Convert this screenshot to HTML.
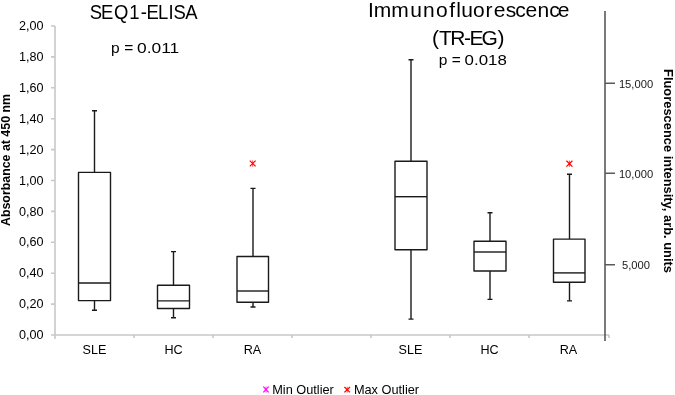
<!DOCTYPE html>
<html><head><meta charset="utf-8">
<style>
html,body{margin:0;padding:0;background:#fff;}
body{width:675px;height:395px;overflow:hidden;}
svg{display:block;will-change:transform;font-family:"Liberation Sans",sans-serif;}
.t{font-size:12.6px;fill:#000;}
.lg{font-size:12.75px;fill:#000;}
.at{font-size:12px;font-weight:bold;fill:#000;}
.r{font-size:11.2px;fill:#1a1a1a;}
.ti{font-size:21px;fill:#000;}
.p{font-size:15.5px;fill:#000;}
.b{stroke:#1a1a1a;stroke-width:1.4;fill:#fff;stroke-linejoin:round;}
.w{stroke:#1a1a1a;stroke-width:1.4;fill:none;}
.ax{stroke:#c8c8c8;stroke-width:1.6;fill:none;}
.rax{stroke:#5a5a5a;stroke-width:1.6;fill:none;}
</style></head>
<body>
<svg width="675" height="395" viewBox="0 0 675 395">
<!-- left axis -->
<path class="ax" d="M55 26 V339 M51 26 H55 M51 56.9 H55 M51 87.8 H55 M51 118.7 H55 M51 149.6 H55 M51 180.5 H55 M51 211.4 H55 M51 242.3 H55 M51 273.2 H55 M51 304.1 H55 M51 335 H609"/>
<path class="ax" d="M134 335 V338 M213 335 V338 M292 335 V338 M371 335 V338 M450 335 V338 M529 335 V338 M609 335 V338"/>
<!-- right axis -->
<path class="rax" d="M605 11 V341 M605 83.3 H615 M605 173.3 H615 M605 264.7 H615"/>

<!-- left y labels -->
<g class="t" text-anchor="end">
<text x="43.6" y="29.9">2,00</text>
<text x="43.6" y="60.9">1,80</text>
<text x="43.6" y="91.9">1,60</text>
<text x="43.6" y="122.9">1,40</text>
<text x="43.6" y="153.7">1,20</text>
<text x="43.6" y="184.6">1,00</text>
<text x="43.6" y="215.5">0,80</text>
<text x="43.6" y="246.4">0,60</text>
<text x="43.6" y="277.3">0,40</text>
<text x="43.6" y="308.2">0,20</text>
<text x="43.6" y="339.1">0,00</text>
</g>
<!-- right y labels -->
<g class="r" text-anchor="middle">
<text x="636" y="87.5">15,000</text>
<text x="636" y="177.5">10,000</text>
<text x="636" y="268.9">5,000</text>
</g>
<!-- x labels -->
<g class="t" text-anchor="middle">
<text x="94.5" y="354.2">SLE</text>
<text x="173.5" y="354.2">HC</text>
<text x="252.5" y="354.2">RA</text>
<text x="410.5" y="354.2">SLE</text>
<text x="489.5" y="354.2">HC</text>
<text x="568.5" y="354.2">RA</text>
</g>

<!-- axis titles -->
<text class="at" transform="translate(10.4,160) rotate(-90)" text-anchor="middle" textLength="132" lengthAdjust="spacingAndGlyphs">Absorbance at 450 nm</text>
<text class="at" transform="translate(664.2,171) rotate(90)" text-anchor="middle" textLength="204" lengthAdjust="spacingAndGlyphs">Fluorescence intensity, arb. units</text>

<!-- titles -->
<text class="ti" transform="scale(0.88,1)" x="102.09 114.86 129.68 146.94 160.08 166.56 179.5 191.51 197.09 210.38" y="18.9">SEQ1-ELISA</text>
<text class="p" x="111" y="53.4">p</text><text class="p" x="124.2" y="53.4">=</text><text class="p" x="137" y="53.4" textLength="42.2" lengthAdjust="spacingAndGlyphs">0.011</text>
<text class="ti" x="368.03 373.7 391.35 410.13 423.05 435.91 449.22 456.36 461.23 472.96 485.58 493.73 505.74 515.28 525.38 537.6 549.18 557.83" y="16.8">Immunofluorescence</text>
<text class="ti" x="432.06 439.09 450.19 463.9 469.44 481.54 497.44" y="44.6">(TR-EG)</text>
<text class="p" x="438.7" y="65.1">p</text><text class="p" x="451.7" y="65.1">=</text><text class="p" x="464.6" y="65.1" textLength="42.2" lengthAdjust="spacingAndGlyphs">0.018</text>

<!-- left boxes -->
<g>
<path class="w" d="M94.5 110.8 V172.4 M92 110.8 H97 M94.5 300.6 V310.3 M92 310.3 H97"/>
<rect class="b" x="78.5" y="172.4" width="32" height="128.2"/>
<path class="w" d="M78.5 283 H110.5"/>

<path class="w" d="M173.5 251.6 V285.3 M171 251.6 H176 M173.5 308.5 V317.7 M171 317.7 H176"/>
<rect class="b" x="157.5" y="285.3" width="32" height="23.2"/>
<path class="w" d="M157.5 300.9 H189.5"/>

<path class="w" d="M253 188.4 V256.5 M250.5 188.4 H255.5 M253 302.2 V307 M250.5 307 H255.5"/>
<rect class="b" x="237" y="256.5" width="31.5" height="45.7"/>
<path class="w" d="M237 291 H268.5"/>
</g>
<!-- right boxes -->
<g>
<path class="w" d="M411 59.7 V161.3 M408.5 59.7 H413.5 M411 249.7 V319.1 M408.5 319.1 H413.5"/>
<rect class="b" x="395" y="161.3" width="32" height="88.4"/>
<path class="w" d="M395 196.7 H427"/>

<path class="w" d="M490 212.7 V241.2 M487.5 212.7 H492.5 M490 271 V299.4 M487.5 299.4 H492.5"/>
<rect class="b" x="474" y="241.2" width="32" height="29.8"/>
<path class="w" d="M474 252 H506"/>

<path class="w" d="M569.5 174.3 V239.1 M567 174.3 H572 M569.5 282.2 V300.9 M567 300.9 H572"/>
<rect class="b" x="553.5" y="239.1" width="31.5" height="43.1"/>
<path class="w" d="M553.5 272.9 H585"/>
</g>
<!-- outliers -->
<g stroke="#ff0000" stroke-width="1.2" fill="none">
<path d="M249.8 160.6 L255.6 166.4 M255.6 160.6 L249.8 166.4"/><path d="M252.7 160.3 V166.7" stroke-width="0.7"/>
<path d="M566.4 160.8 L572.4 166.6 M572.4 160.8 L566.4 166.6"/><path d="M569.4 160.5 V166.9" stroke-width="0.7"/>
</g>
<!-- legend -->
<path d="M263.3 386.6 L268.7 392.4 M268.7 386.6 L263.3 392.4" stroke="#ff00ff" stroke-width="1.2" fill="none"/><path d="M266 386.4 V392.6" stroke="#ff00ff" stroke-width="0.7" fill="none"/>
<text class="lg" x="272.2" y="393.8">Min Outlier</text>
<path d="M344.4 387 L350 392.4 M350 387 L344.4 392.4" stroke="#ff0000" stroke-width="1.2" fill="none"/><path d="M347.2 386.7 V392.7" stroke="#ff0000" stroke-width="0.7" fill="none"/>
<text class="lg" x="353.9" y="393.8">Max Outlier</text>
</svg>
</body></html>
